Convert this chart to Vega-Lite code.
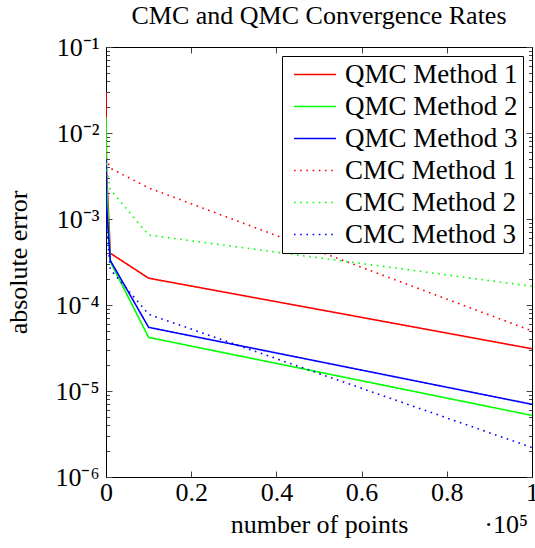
{
  "$schema": "https://vega.github.io/schema/vega-lite/v6.json",
  "autosize": {"type": "none"},
  "padding": {"left": 106, "top": 47, "right": 3, "bottom": 71},
  "width": 426,
  "height": 430,
  "background": "white",
  "config": {
    "font": "Liberation Serif",
    "view": {"stroke": null},
    "axis": {"grid": false, "domainColor": "black", "domainWidth": 1, "tickColor": "#444", "tickWidth": 1, "labelColor": "black", "titleColor": "black", "labelFont": "Liberation Serif", "titleFont": "Liberation Serif", "labelFontSize": 26, "titleFontSize": 26, "titleFontWeight": "normal"}
  },
  "title": {"text": "CMC and QMC Convergence Rates", "font": "Liberation Serif", "fontSize": 26, "fontWeight": "normal", "color": "black", "offset": 5},
  "data": {"values": [
    {"n": 10, "err": 0.03, "series": "QMC Method 1"},
    {"n": 100, "err": 0.004, "series": "QMC Method 1"},
    {"n": 1000, "err": 0.0004, "series": "QMC Method 1"},
    {"n": 10000, "err": 0.000205, "series": "QMC Method 1"},
    {"n": 100000, "err": 0.000031, "series": "QMC Method 1"},
    {"n": 10, "err": 0.015, "series": "QMC Method 2"},
    {"n": 100, "err": 0.003, "series": "QMC Method 2"},
    {"n": 1000, "err": 0.00032, "series": "QMC Method 2"},
    {"n": 10000, "err": 0.000042, "series": "QMC Method 2"},
    {"n": 100000, "err": 0.0000052, "series": "QMC Method 2"},
    {"n": 10, "err": 0.005, "series": "QMC Method 3"},
    {"n": 100, "err": 0.0015, "series": "QMC Method 3"},
    {"n": 1000, "err": 0.00033, "series": "QMC Method 3"},
    {"n": 10000, "err": 0.000055, "series": "QMC Method 3"},
    {"n": 100000, "err": 0.000007, "series": "QMC Method 3"},
    {"n": 10, "err": 0.01, "series": "CMC Method 1"},
    {"n": 100, "err": 0.005, "series": "CMC Method 1"},
    {"n": 1000, "err": 0.0039, "series": "CMC Method 1"},
    {"n": 10000, "err": 0.0023, "series": "CMC Method 1"},
    {"n": 100000, "err": 0.00005, "series": "CMC Method 1"},
    {"n": 10, "err": 0.012, "series": "CMC Method 2"},
    {"n": 100, "err": 0.004, "series": "CMC Method 2"},
    {"n": 1000, "err": 0.0022, "series": "CMC Method 2"},
    {"n": 10000, "err": 0.00065, "series": "CMC Method 2"},
    {"n": 100000, "err": 0.000165, "series": "CMC Method 2"},
    {"n": 10, "err": 0.002, "series": "CMC Method 3"},
    {"n": 100, "err": 0.0008, "series": "CMC Method 3"},
    {"n": 1000, "err": 0.00026, "series": "CMC Method 3"},
    {"n": 10000, "err": 0.000078, "series": "CMC Method 3"},
    {"n": 100000, "err": 0.0000022, "series": "CMC Method 3"}
  ]},
  "resolve": {"axis": {"x": "independent", "y": "independent"}},
  "layer": [
    {
      "mark": {"type": "line", "strokeWidth": 1.6, "clip": true},
      "encoding": {
        "x": {"field": "n", "type": "quantitative", "scale": {"domain": [0, 100000], "nice": false, "zero": false},
          "axis": {"orient": "bottom", "title": "number of points", "values": [0, 20000, 40000, 60000, 80000, 100000], "labelExpr": "datum.value/100000 + ''", "tickSize": -6, "labelPadding": 8, "titlePadding": 6, "labelFlush": false}},
        "y": {"field": "err", "type": "quantitative", "scale": {"type": "log", "domain": [0.000001, 0.1], "nice": false},
          "axis": {"orient": "left", "title": "absolute error", "titlePadding": 23, "labelPadding": 13,
            "values": [0.000001,0.000002,0.000003,0.000004,0.000005,0.000006,0.000007,0.000008,0.000009,0.00001,0.00002,0.00003,0.00004,0.00005,0.00006,0.00007,0.00008,0.00009,0.0001,0.0002,0.0003,0.0004,0.0005,0.0006,0.0007,0.0008,0.0009,0.001,0.002,0.003,0.004,0.005,0.006,0.007,0.008,0.009,0.01,0.02,0.03,0.04,0.05,0.06,0.07,0.08,0.09,0.1],
            "labelExpr": "abs(log(datum.value)/LN10 - round(log(datum.value)/LN10)) < 0.001 ? '10⁻' + ['⁰','¹','²','³','⁴','⁵','⁶'][-round(log(datum.value)/LN10)] : ''",
            "tickSize": {"condition": {"test": "abs(log(datum.value)/LN10 - round(log(datum.value)/LN10)) < 0.001", "value": -6}, "value": -3.5}}},
        "color": {"field": "series", "type": "nominal",
          "scale": {"domain": ["QMC Method 1", "QMC Method 2", "QMC Method 3", "CMC Method 1", "CMC Method 2", "CMC Method 3"], "range": ["#ff0000", "#00ff00", "#0000ff", "#ff0000", "#00ff00", "#0000ff"]},
          "legend": {"title": null, "orient": "top-right", "offset": 9, "fillColor": "white", "strokeColor": "black", "padding": 5, "labelFontSize": 27, "labelFont": "Liberation Serif", "labelColor": "black", "labelLimit": 0, "symbolType": "M -2 0 L 2 0", "symbolSize": 441, "symbolStrokeWidth": 1.6, "symbolOffset": 14.5, "labelOffset": 16.5, "rowPadding": 4, "cornerRadius": 0}},
        "strokeDash": {"field": "series", "type": "nominal",
          "scale": {"domain": ["QMC Method 1", "QMC Method 2", "QMC Method 3", "CMC Method 1", "CMC Method 2", "CMC Method 3"], "range": [[1, 0], [1, 0], [1, 0], [1.6, 4.6], [1.6, 4.6], [1.6, 4.6]]},
          "legend": {"title": null}}
      }
    },
    {
      "mark": {"type": "point", "opacity": 0},
      "encoding": {
        "x": {"field": "n", "type": "quantitative",
          "axis": {"orient": "top", "title": null, "labels": false, "values": [0, 20000, 40000, 60000, 80000, 100000], "tickSize": -6}},
        "y": {"field": "err", "type": "quantitative",
          "axis": {"orient": "right", "title": null, "labels": false,
            "values": [0.000001,0.000002,0.000003,0.000004,0.000005,0.000006,0.000007,0.000008,0.000009,0.00001,0.00002,0.00003,0.00004,0.00005,0.00006,0.00007,0.00008,0.00009,0.0001,0.0002,0.0003,0.0004,0.0005,0.0006,0.0007,0.0008,0.0009,0.001,0.002,0.003,0.004,0.005,0.006,0.007,0.008,0.009,0.01,0.02,0.03,0.04,0.05,0.06,0.07,0.08,0.09,0.1],
            "tickSize": {"condition": {"test": "abs(log(datum.value)/LN10 - round(log(datum.value)/LN10)) < 0.001", "value": -6}, "value": -3.5}}}
      }
    },
    {
      "data": {"values": [{"note": "exponent"}]},
      "mark": {"type": "text", "text": "·10⁵", "font": "Liberation Serif", "fontSize": 26, "align": "right", "baseline": "alphabetic", "dy": 56, "dx": -4, "color": "black"},
      "encoding": {
        "x": {"datum": 100000, "type": "quantitative", "axis": null},
        "y": {"datum": 0.000001, "type": "quantitative", "axis": null}
      }
    }
  ]
}
